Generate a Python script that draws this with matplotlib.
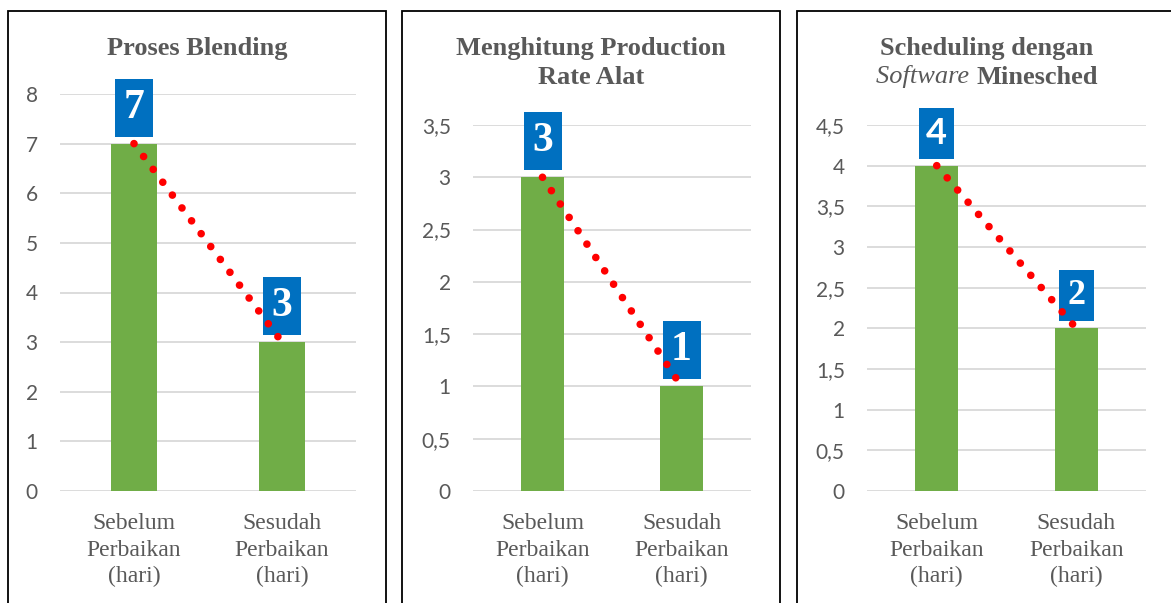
import matplotlib
matplotlib.use("Agg")
import matplotlib.pyplot as plt
import matplotlib.transforms as mtransforms
from matplotlib.patches import Rectangle

# ---------------- data ----------------
categories = ["Sebelum\nPerbaikan\n(hari)", "Sesudah\nPerbaikan\n(hari)"]

blending_values = [7, 3]
blending_ticks = [0, 1, 2, 3, 4, 5, 6, 7, 8]
blending_labels = ["0", "1", "2", "3", "4", "5", "6", "7", "8"]

production_values = [3, 1]
production_ticks = [0, 0.5, 1, 1.5, 2, 2.5, 3, 3.5]
production_labels = ["0", "0,5", "1", "1,5", "2", "2,5", "3", "3,5"]

scheduling_values = [4, 2]
scheduling_ticks = [0, 0.5, 1, 1.5, 2, 2.5, 3, 3.5, 4, 4.5]
scheduling_labels = ["0", "0,5", "1", "1,5", "2", "2,5", "3", "3,5", "4", "4,5"]

blending_badges = ["7", "3"]
production_badges = ["3", "1"]
scheduling_badges = ["4", "2"]

# ---------------- style ----------------
W, H = 1171, 603
GREEN = "#70AD47"
BLUE = "#0070C0"
GREY_TXT = "#595959"
GRID = "#D9D9D9"
SERIF = ["Liberation Serif", "DejaVu Serif"]
SANS = ["Lato", "DejaVu Sans"]

fig = plt.figure(figsize=(W / 100, H / 100), dpi=100)
fig.patch.set_facecolor("white")


def fx(px):
    return px / W


def fy(py):
    return 1 - py / H


panels = [
    dict(values=blending_values, ticks=blending_ticks, labels=blending_labels,
         badges=blending_badges, badge_fam=[SERIF, SERIF],
         axpx=(60, 94, 356, 491), frame=(8, 11, 386, 640),
         badge=(38, 58, 7, 30)),
    dict(values=production_values, ticks=production_ticks, labels=production_labels,
         badges=production_badges, badge_fam=[SERIF, SERIF],
         axpx=(473, 125, 751, 491), frame=(402, 11, 780, 640),
         badge=(38, 58, 7, 30)),
    dict(values=scheduling_values, ticks=scheduling_ticks, labels=scheduling_labels,
         badges=scheduling_badges, badge_fam=[SANS, SERIF],
         axpx=(867, 125, 1146, 491), frame=(797, 11, 1176, 640),
         badge=(35, 51, 7, 26)),
]

for p in panels:
    x0, y0, x1, y1 = p["frame"]
    fig.patches.append(Rectangle((fx(x0), fy(y1)), fx(x1 - x0), (y1 - y0) / H,
                                 transform=fig.transFigure, fill=False,
                                 edgecolor="black", lw=1.3, zorder=0))

    a0, b0, a1, b1 = p["axpx"]
    ax = fig.add_axes([fx(a0), fy(b1), fx(a1 - a0), (b1 - b0) / H])
    ax.set_facecolor("none")
    xs = list(range(len(categories)))
    ax.bar(xs, p["values"], width=0.31, color=GREEN, zorder=2)
    ax.set_xlim(-0.5, 1.5)
    ax.set_ylim(p["ticks"][0], p["ticks"][-1])
    ax.set_yticks(p["ticks"])
    ax.set_yticklabels(p["labels"], fontfamily=SANS, fontsize=15, color=GREY_TXT)
    ax.set_xticks(xs)
    ax.set_xticklabels(categories, fontfamily=SERIF, fontsize=17, color=GREY_TXT,
                       linespacing=1.34)
    ax.tick_params(axis="both", length=0)
    ax.tick_params(axis="y", pad=16)
    ax.tick_params(axis="x", pad=16)
    for s in ax.spines.values():
        s.set_visible(False)
    ax.yaxis.grid(True, color=GRID, lw=1.3, zorder=0)
    ax.set_axisbelow(True)

    # trend dots
    ax.plot(xs, p["values"], color="#FF0000", lw=5.5, linestyle=(0, (0.001, 2.1)),
            dash_capstyle="round", zorder=6, clip_on=False)

    bw, bh, gap, fs = p["badge"]
    for i, (v, lab) in enumerate(zip(p["values"], p["badges"])):
        tr = fig.dpi_scale_trans + mtransforms.ScaledTranslation(i, v, ax.transData)
        ax.add_patch(Rectangle((-bw / 200, gap / 100), bw / 100, bh / 100,
                               transform=tr, facecolor=BLUE, edgecolor="none",
                               zorder=4, clip_on=False))
        ax.text(0, (gap + bh / 2) / 100, lab, transform=tr, ha="center", va="center",
                color="white", fontsize=fs, fontweight="bold",
                fontfamily=p["badge_fam"][i], zorder=5, clip_on=False)

# titles
title_kw = dict(fontfamily=SERIF, fontsize=19, fontweight="bold", color=GREY_TXT,
                ha="center", va="center")
fig.text(fx(197), fy(48), "Proses Blending", **title_kw)
fig.text(fx(591), fy(48), "Menghitung Production", **title_kw)
fig.text(fx(591), fy(77), "Rate Alat", **title_kw)
fig.text(fx(987), fy(48), "Scheduling dengan", **title_kw)

# second line of third title: italic "Software" + bold "Minesched"
renderer = fig.canvas.get_renderer()
t_a = fig.text(0, fy(77), "Software ", fontfamily=SERIF, fontsize=19,
               fontstyle="italic", color=GREY_TXT, ha="left", va="center")
t_b = fig.text(0, fy(77), "Minesched", fontfamily=SERIF, fontsize=19,
               fontweight="bold", color=GREY_TXT, ha="left", va="center")
wa = t_a.get_window_extent(renderer).width
wb = t_b.get_window_extent(renderer).width
start = 987 - (wa + wb) / 2
t_a.set_x(fx(start))
t_b.set_x(fx(start + wa))

fig.savefig("out.png", dpi=100, facecolor="white")
